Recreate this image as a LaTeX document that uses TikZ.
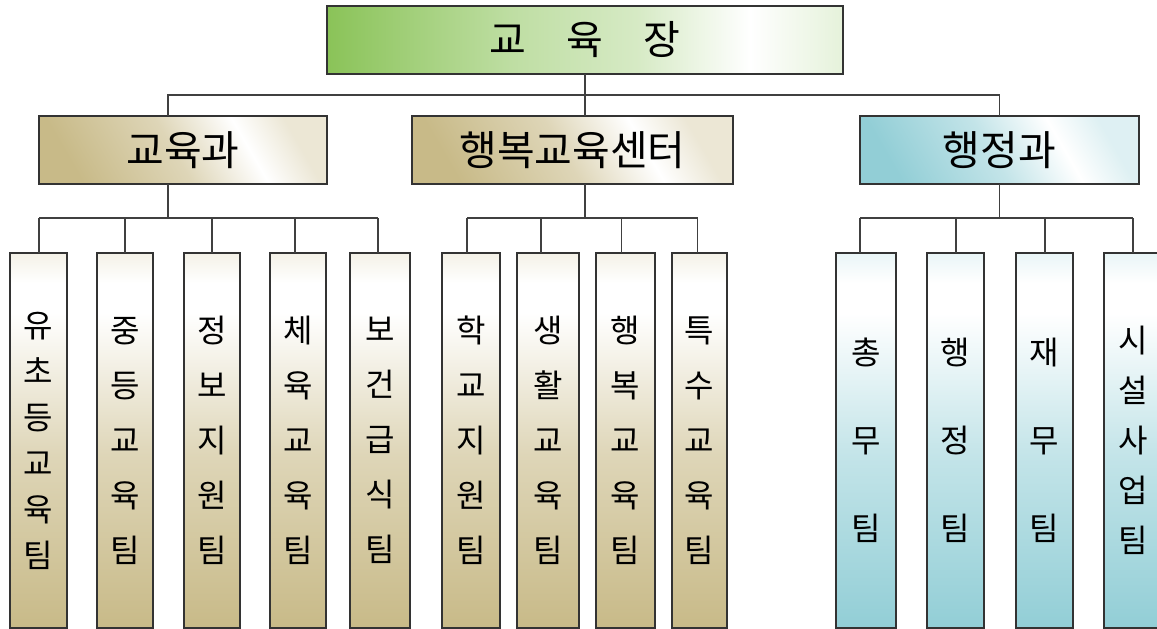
\documentclass[tikz,border=0pt]{standalone}
\usepackage{fontspec}
\setmainfont{Noto Sans CJK KR}
\usetikzlibrary{positioning,calc}
\definecolor{chiefgreen}{RGB}{138,195,88}
\definecolor{edutan}{RGB}{200,186,136}
\definecolor{adminblue}{RGB}{146,206,214}
\pgfdeclarehorizontalshading{chiefshade}{100bp}{color(0bp)=(chiefgreen); color(25bp)=(chiefgreen); color(43bp)=(chiefgreen!55!white); color(55bp)=(chiefgreen!35!white); color(66bp)=(white); color(75bp)=(chiefgreen!22!white); color(100bp)=(chiefgreen!22!white)}
\pgfdeclarehorizontalshading{tanshade}{100bp}{color(0bp)=(edutan); color(25bp)=(edutan); color(48bp)=(edutan!60!white); color(64bp)=(white); color(75bp)=(edutan!35!white); color(100bp)=(edutan!35!white)}
\pgfdeclarehorizontalshading{blueshade}{100bp}{color(0bp)=(adminblue); color(25bp)=(adminblue); color(48bp)=(adminblue!55!white); color(64bp)=(white); color(75bp)=(adminblue!30!white); color(100bp)=(adminblue!30!white)}
\pgfdeclareverticalshading{tanteam}{100bp}{color(0bp)=(edutan); color(25bp)=(edutan); color(48bp)=(edutan!60!white); color(67bp)=(white); color(71bp)=(white); color(75bp)=(edutan!20!white); color(100bp)=(edutan!20!white)}
\pgfdeclareverticalshading{blueteam}{100bp}{color(0bp)=(adminblue); color(25bp)=(adminblue); color(48bp)=(adminblue!55!white); color(67bp)=(white); color(71bp)=(white); color(75bp)=(adminblue!20!white); color(100bp)=(adminblue!20!white)}
\tikzstyle{orgbox}=[draw=black!80, line width=1.1pt, inner sep=0pt, outer sep=0pt]
\tikzstyle{dept}=[orgbox, minimum height=68pt, font=\fontsize{41}{44}\selectfont]
\tikzstyle{team}=[orgbox, minimum height=375pt, align=center]
\tikzstyle{link}=[draw=black!75, line width=1.1pt]
\tikzset{pitch/.style={font=\fontsize{32}{#1}\selectfont}}

\begin{document}
\begin{tikzpicture}[x=1pt, y=-1pt]
    \useasboundingbox (0,0) rectangle (1157,629);

    % top and departments
    \node[orgbox, shading=chiefshade, minimum width=516pt, minimum height=68pt,
          font=\fontsize{40}{44}\selectfont] (chief) at (585,40)
          {교\hspace{40pt}육\hspace{40pt}장};
    \node[dept, shading=tanshade, shading angle=30, minimum width=288pt] (edu) at (183,150) {교육과};
    \node[dept, shading=tanshade, shading angle=30, minimum width=321pt] (happy) at (572.5,150) {행복교육센터};
    \node[dept, shading=blueshade, shading angle=30, minimum width=279pt] (admin) at (999.5,150) {행정과};

    % teams
    \node[team, shading=tanteam, minimum width=57pt, pitch=46pt] (t1) at (38.5,440.5) {유\\초\\등\\교\\육\\팀};
    \node[team, shading=tanteam, minimum width=56pt, pitch=55pt] (t2) at (125,440.5) {중\\등\\교\\육\\팀};
    \node[team, shading=tanteam, minimum width=56pt, pitch=55pt] (t3) at (212,440.5) {정\\보\\지\\원\\팀};
    \node[team, shading=tanteam, minimum width=56pt, pitch=55pt] (t4) at (298,440.5) {체\\육\\교\\육\\팀};
    \node[team, shading=tanteam, minimum width=60pt, pitch=55pt] (t5) at (380,440.5) {보\\건\\급\\식\\팀};

    \node[team, shading=tanteam, minimum width=58pt, pitch=55pt] (m1) at (471,440.5) {학\\교\\지\\원\\팀};
    \node[team, shading=tanteam, minimum width=62pt, pitch=55pt] (m2) at (548,440.5) {생\\활\\교\\육\\팀};
    \node[team, shading=tanteam, minimum width=59pt, pitch=55pt] (m3) at (625.5,440.5) {행\\복\\교\\육\\팀};
    \node[team, shading=tanteam, minimum width=55pt, pitch=55pt] (m4) at (699.5,440.5) {특\\수\\교\\육\\팀};

    \node[team, shading=blueteam, minimum width=60pt, pitch=88pt] (r1) at (866,440.5) {총\\무\\팀};
    \node[team, shading=blueteam, minimum width=57pt, pitch=88pt] (r2) at (955.5,440.5) {행\\정\\팀};
    \node[team, shading=blueteam, minimum width=57pt, pitch=88pt] (r3) at (1044.5,440.5) {재\\무\\팀};
    \node[team, shading=blueteam, minimum width=58pt, pitch=50pt] (r4) at (1133,440.5) {시\\설\\사\\업\\팀};

    % connectors
    \draw[link] (chief.south) -- ++(0,21) coordinate (hub);
    \draw[link] ([xshift=-15pt]edu.north) |- (admin.north |- hub) -- (admin.north);
    \draw[link] (hub) -- (happy.north -| hub);

    \draw[link] ([xshift=-15pt]edu.south) -- ++(0,34) coordinate (edubus);
    \draw[link] ([xshift=0.5pt]t1.north |- edubus) -- ([xshift=-2pt]t5.north |- edubus);
    \foreach \n/\dx in {t1/0.5,t2/0,t3/0,t4/-3,t5/-2}
        \draw[link] ([xshift=\dx pt]\n.north |- edubus) -- ([xshift=\dx pt]\n.north);

    \draw[link] (happy.south -| hub) -- ++(0,34) coordinate (happybus);
    \draw[link] ([xshift=-4pt]m1.north |- happybus) -- ([xshift=-2pt]m4.north |- happybus);
    \foreach \n/\dx in {m1/-4,m2/-7,m3/-4,m4/-2}
        \draw[link] ([xshift=\dx pt]\n.north |- happybus) -- ([xshift=\dx pt]\n.north);

    \draw[link] (admin.south) -- ++(0,34) coordinate (adminbus);
    \draw[link] ([xshift=-6pt]r1.north |- adminbus) -- (r4.north |- adminbus);
    \foreach \n/\dx in {r1/-6,r2/0.5,r3/0.5,r4/0}
        \draw[link] ([xshift=\dx pt]\n.north |- adminbus) -- ([xshift=\dx pt]\n.north);
\end{tikzpicture}
\end{document}
